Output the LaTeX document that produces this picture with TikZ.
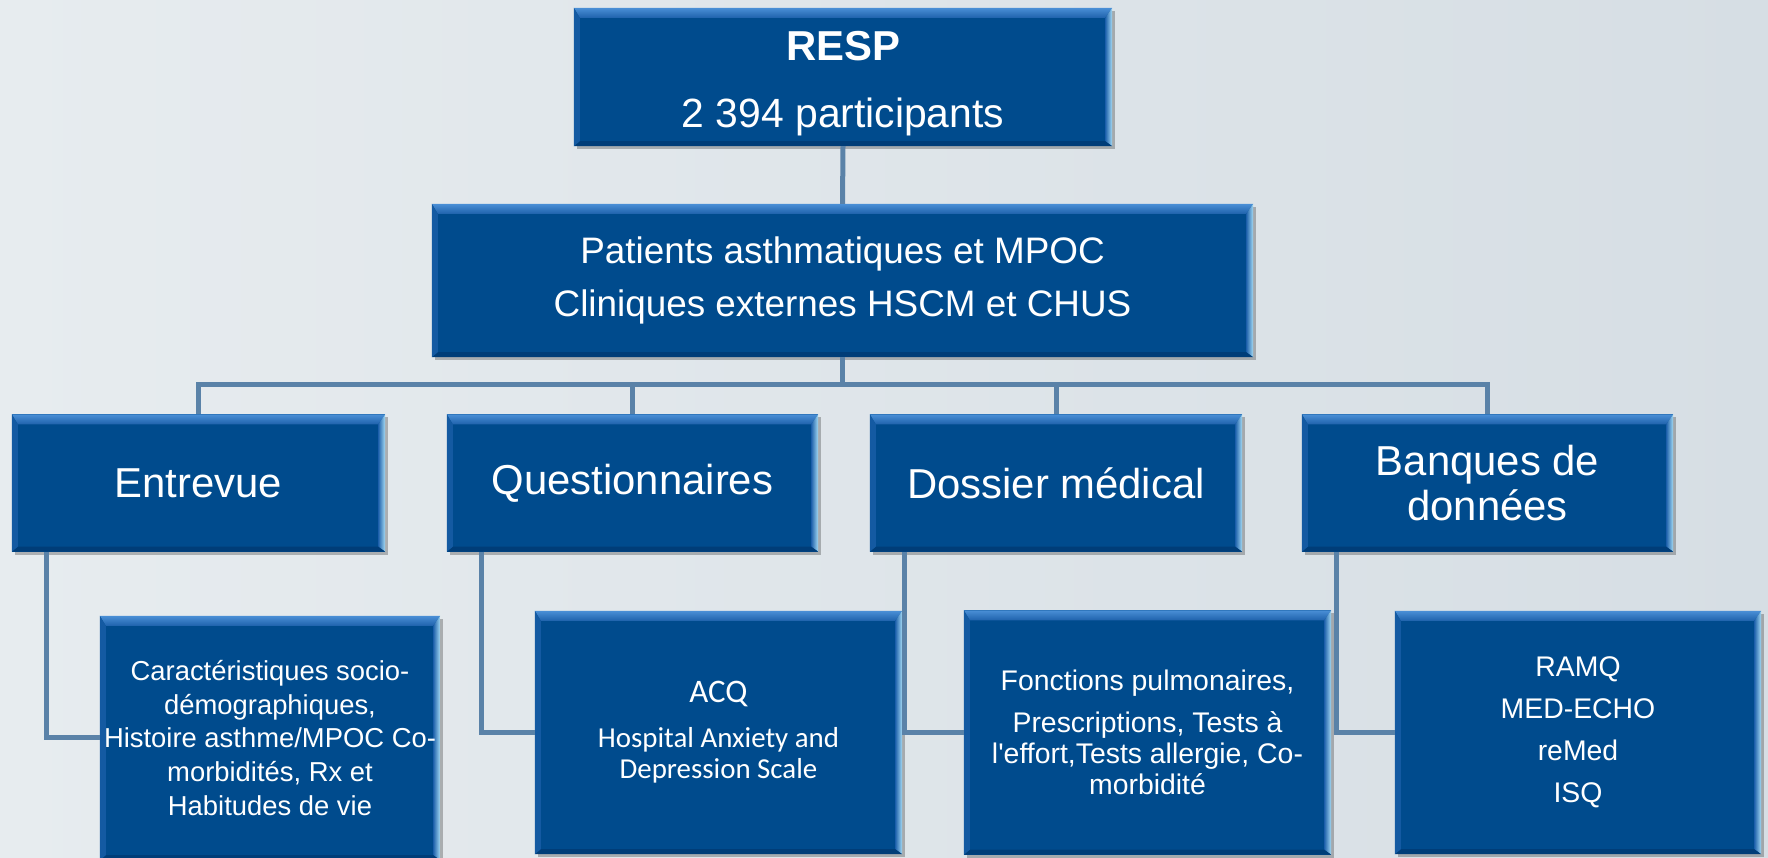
\documentclass[tikz,border=0pt]{standalone}
\usepackage{fontspec}
\setmainfont{Liberation Sans}
\newfontfamily\calibrifont{Carlito}
\definecolor{boxblue}{HTML}{004B8D}
\definecolor{bevtop}{HTML}{4A8FD6}
\definecolor{bevmid}{HTML}{1F62AC}
\definecolor{bevright}{HTML}{A6DBF4}
\definecolor{bevleft}{HTML}{145AA2}
\definecolor{bevbottom}{HTML}{003D78}
\definecolor{linkblue}{HTML}{5A82A8}
\definecolor{bgleft}{HTML}{E7ECEF}
\definecolor{bgright}{HTML}{D6DEE4}
\pgfdeclarelayer{boxlayer}
\pgfsetlayers{boxlayer,main}
\tikzset{
  box/.style={draw=none,text=white,align=center,inner sep=0pt},
  link/.style={draw=linkblue,line width=5bp},
}
\begin{document}
\begin{tikzpicture}[>=latex,line join=miter,]
\useasboundingbox (0bp,0bp) rectangle (1768bp,858bp);
\begin{pgfonlayer}{boxlayer}
\shade[left color=bgleft,right color=bgright] (0bp,0bp) rectangle (1768bp,858bp);
\end{pgfonlayer}
%%
\node (node_resp) at (843bp,781bp) [box,minimum width=538bp,minimum height=138bp,font=\fontsize{41}{67}\selectfont] {\rule{0pt}{43bp}{\fontsize{42}{67}\selectfont\bfseries RESP}\\2 394 participants};
  \node (node_patients) at (842.5bp,577.5bp) [box,minimum width=821bp,minimum height=153bp,font=\fontsize{37}{53}\selectfont] {Patients asthmatiques et MPOC\\Cliniques externes HSCM et CHUS};
  \node (node_entrevue) at (198.5bp,375bp) [box,minimum width=373bp,minimum height=137bp,font=\fontsize{42}{45}\selectfont] {Entrevue};
  \node (node_questionnaires) at (632.5bp,375bp) [box,minimum width=371bp,minimum height=137bp,font=\fontsize{42}{45}\selectfont] {Questionnaires};
  \node (node_dossier) at (1056bp,375bp) [box,minimum width=372bp,minimum height=137bp,font=\fontsize{42}{45}\selectfont] {Dossier médical};
  \node (node_banques) at (1487.5bp,375bp) [box,minimum width=371bp,minimum height=137bp,font=\fontsize{42}{45}\selectfont] {Banques de\\données};
  \node (node_caract) at (270bp,120bp) [box,minimum width=340bp,minimum height=244bp,font=\fontsize{27.5}{34}\selectfont] {Caractéristiques socio-\\démographiques,\\Histoire asthme/MPOC Co-\\morbidités, Rx et\\Habitudes de vie};
  \node (node_acq) at (718.5bp,125.5bp) [box,minimum width=367bp,minimum height=243bp,font=\calibrifont\fontsize{29}{31}\selectfont] {{\fontsize{33}{31}\selectfont ACQ}\\[14bp]Hospital Anxiety and\\Depression Scale};
  \node (node_fonctions) at (1147.5bp,125.5bp) [box,minimum width=367bp,minimum height=244bp,font=\fontsize{28.5}{31}\selectfont] {Fonctions pulmonaires,\\[11bp]Prescriptions, Tests à\\l\textquotesingle effort,Tests allergie, Co-\\morbidité};
  \node (node_ramq) at (1578bp,125.5bp) [box,minimum width=366bp,minimum height=243bp,font=\fontsize{28.5}{42}\selectfont] {RAMQ\\MED-ECHO\\reMed\\ISQ};
  \coordinate (bus) at (842.5bp,473bp);
%
\begin{pgfonlayer}{boxlayer}
\foreach \b in {node_resp,node_patients,node_entrevue,node_questionnaires,node_dossier,node_banques,node_caract,node_acq,node_fonctions,node_ramq} {
  \fill[black,opacity=0.25] ([shift={(3bp,-3bp)}]\b.south west) rectangle ([shift={(3bp,-3bp)}]\b.north east);
  \fill[boxblue] (\b.south west) rectangle (\b.north east);
  \shade[top color=bevtop,bottom color=bevmid] (\b.north west) -- (\b.north east) -- ([shift={(-7bp,-10bp)}]\b.north east) -- ([shift={(6bp,-10bp)}]\b.north west) -- cycle;
  \shade[left color=bevmid,right color=bevright] (\b.north east) -- (\b.south east) -- ([shift={(-7bp,5bp)}]\b.south east) -- ([shift={(-7bp,-10bp)}]\b.north east) -- cycle;
  \fill[bevbottom] (\b.south east) -- (\b.south west) -- ([shift={(6bp,5bp)}]\b.south west) -- ([shift={(-7bp,5bp)}]\b.south east) -- cycle;
  \fill[bevleft] (\b.south west) -- (\b.north west) -- ([shift={(6bp,-10bp)}]\b.north west) -- ([shift={(6bp,5bp)}]\b.south west) -- cycle;
}
\end{pgfonlayer}
%
  \draw [link] (node_resp.south) -- (node_patients.north);
  \draw [link] (node_patients.south) -- (bus);
\foreach \n in {node_entrevue,node_questionnaires,node_dossier,node_banques}
  \draw [link] (bus) -| (\n.north);
  \draw [link] ([xshift=35bp]node_entrevue.south west) |- (node_caract.west);
  \draw [link] ([xshift=35bp]node_questionnaires.south west) |- (node_acq.west);
  \draw [link] ([xshift=35bp]node_dossier.south west) |- (node_fonctions.west);
  \draw [link] ([xshift=35bp]node_banques.south west) |- (node_ramq.west);
%
\end{tikzpicture}
\end{document}
